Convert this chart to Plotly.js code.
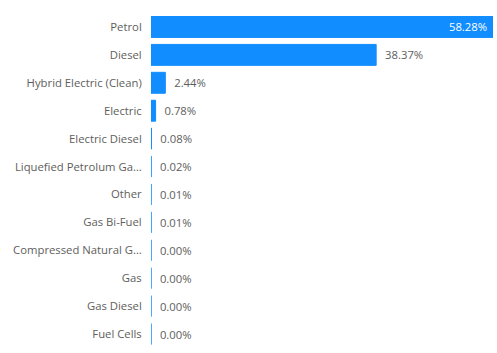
<!DOCTYPE html>
<html>
<head>
<meta charset="utf-8">
<script src="https://cdn.plot.ly/plotly-3.0.1.min.js"></script>
<style>html,body{margin:0;padding:0;background:#fff;}#chart{width:497px;height:353px;}</style>
</head>
<body>
<div id="chart"></div>
<script>
var categories = ["Petrol","Diesel","Hybrid Electric (Clean)","Electric","Electric Diesel","Liquefied Petrolum Ga…","Other","Gas Bi-Fuel","Compressed Natural G…","Gas","Gas Diesel","Fuel Cells"];
var shares = [58.28, 38.37, 2.44, 0.78, 0.08, 0.02, 0.01, 0.01, 0.003, 0.002, 0.001, 0.001];
var labelPositions = ["inside","outside","outside","outside","outside","outside","outside","outside","outside","outside","outside","outside"];
var labelTemplates = ["%{x:.2f}%\u00a0"].concat(new Array(11).fill("\u00a0\u00a0%{x:.2f}%"));

var FONT = "Open Sans, Noto Sans, sans-serif";
var trace = {
  type: "bar",
  orientation: "h",
  y: categories,
  x: shares,
  marker: {color: "#118DFF", line: {color: "#118DFF", width: 1}},
  texttemplate: labelTemplates,
  textposition: labelPositions,
  insidetextanchor: "end",
  textfont: {family: FONT, size: 11.3},
  outsidetextfont: {family: FONT, size: 11.3, color: "#605E5C"},
  insidetextfont: {family: FONT, size: 11.3, color: "#ffffff"},
  cliponaxis: false,
  constraintext: "none",
  hoverinfo: "skip"
};

var layout = {
  width: 497, height: 353,
  margin: {l: 151, r: 4, t: 13, b: 5},
  paper_bgcolor: "#ffffff", plot_bgcolor: "#ffffff",
  bargap: 0.25,
  showlegend: false,
  font: {family: FONT, size: 11.3, color: "#605E5C"},
  xaxis: {range: [0, 58.28], visible: false, fixedrange: true},
  yaxis: {
    autorange: "reversed", type: "category",
    showgrid: false, zeroline: false, showline: false,
    ticks: "outside", ticklen: 6, tickcolor: "rgba(0,0,0,0)",
    tickfont: {family: FONT, size: 11.3, color: "#605E5C"},
    fixedrange: true
  }
};

Plotly.newPlot("chart", [trace], layout, {displayModeBar: false, staticPlot: true});
</script>
</body>
</html>
